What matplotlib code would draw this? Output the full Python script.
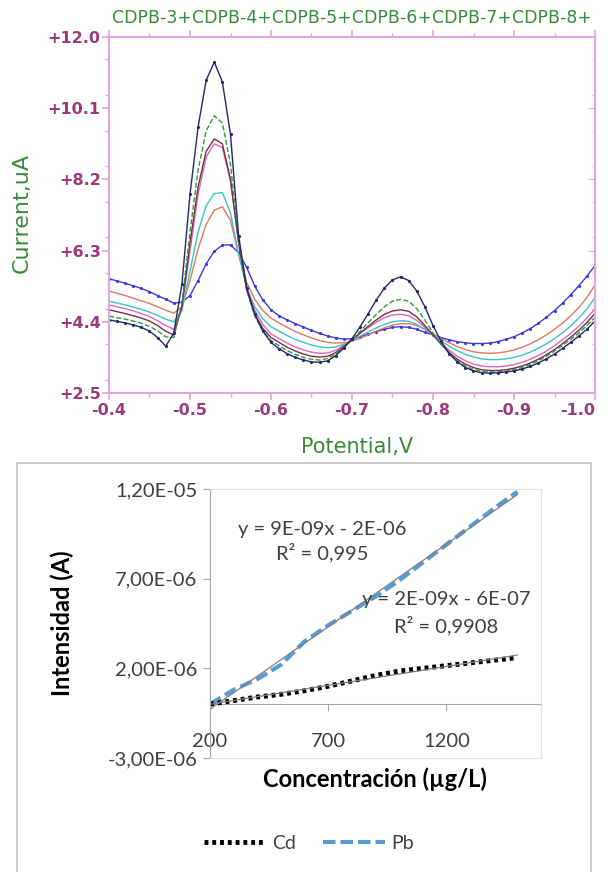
import numpy as np
import matplotlib.pyplot as plt
from matplotlib.patches import Rectangle
from matplotlib.ticker import FuncFormatter, MultipleLocator
from matplotlib.lines import Line2D

# ---- top panel: voltammograms ----
potential = np.round(np.arange(-0.40, -1.005, -0.01), 2)

cdpb_navy = [4.45, 4.41, 4.37, 4.32, 4.25, 4.15, 3.98, 3.75, 4.1, 5.4,
             7.8, 9.6, 10.85, 11.33, 10.8, 9.4, 6.7, 5.3, 4.6, 4.15,
             3.85, 3.68, 3.55, 3.45, 3.38, 3.33, 3.32, 3.36, 3.5, 3.7,
             3.95, 4.27, 4.62, 4.98, 5.3, 5.52, 5.6, 5.5, 5.22, 4.8,
             4.3, 3.88, 3.55, 3.33, 3.18, 3.09, 3.04, 3.03, 3.04, 3.06,
             3.09, 3.14, 3.21, 3.3, 3.41, 3.54, 3.69, 3.85, 4.02, 4.2, 4.42]
cdpb_green = [4.55, 4.51, 4.47, 4.42, 4.36, 4.28, 4.16, 4.0, 3.98, 4.9,
              6.8, 8.45, 9.5, 9.9, 9.7, 8.6, 6.6, 5.25, 4.55, 4.15,
              3.9, 3.76, 3.63, 3.53, 3.45, 3.4, 3.38, 3.42, 3.55, 3.72,
              3.92, 4.15, 4.38, 4.6, 4.8, 4.95, 5.0, 4.95, 4.75, 4.45,
              4.1, 3.8, 3.55, 3.36, 3.22, 3.13, 3.08, 3.06, 3.06, 3.08,
              3.12, 3.18, 3.26, 3.36, 3.48, 3.62, 3.77, 3.93, 4.1, 4.3, 4.52]
cdpb_maroon = [4.72, 4.67, 4.62, 4.56, 4.5, 4.42, 4.3, 4.15, 4.05, 4.8,
               6.5, 8.0, 8.95, 9.28, 9.15, 8.2, 6.5, 5.25, 4.6, 4.22,
               3.98, 3.85, 3.72, 3.62, 3.54, 3.48, 3.46, 3.48, 3.58, 3.74,
               3.92, 4.1, 4.28, 4.45, 4.6, 4.69, 4.72, 4.68, 4.53, 4.3,
               4.05, 3.8, 3.58, 3.4, 3.27, 3.18, 3.12, 3.1, 3.1, 3.12,
               3.16, 3.22, 3.3, 3.4, 3.52, 3.66, 3.82, 3.99, 4.17, 4.38, 4.62]
cdpb_pink = [4.85, 4.8, 4.75, 4.69, 4.62, 4.54, 4.43, 4.3, 4.2, 4.75,
             6.3, 7.8, 8.8, 9.15, 9.05, 8.15, 6.55, 5.35, 4.7, 4.32,
             4.08, 3.95, 3.83, 3.73, 3.65, 3.59, 3.56, 3.57, 3.64, 3.77,
             3.93, 4.09, 4.24, 4.39, 4.51, 4.58, 4.6, 4.56, 4.44, 4.25,
             4.04, 3.83, 3.64, 3.48, 3.36, 3.27, 3.22, 3.2, 3.2, 3.22,
             3.26, 3.32, 3.4, 3.5, 3.62, 3.76, 3.92, 4.09, 4.28, 4.5, 4.75]
cdpb_cyan = [4.95, 4.9, 4.85, 4.79, 4.73, 4.66, 4.57, 4.47, 4.4, 4.7,
             5.75, 6.8, 7.5, 7.82, 7.85, 7.3, 6.2, 5.3, 4.8, 4.48,
             4.27, 4.15, 4.03, 3.93, 3.85, 3.78, 3.73, 3.71, 3.73, 3.8,
             3.9, 4.02, 4.13, 4.24, 4.33, 4.4, 4.43, 4.41, 4.33, 4.2,
             4.05, 3.89, 3.75, 3.63, 3.53, 3.46, 3.41, 3.39, 3.39, 3.41,
             3.45, 3.51, 3.59, 3.69, 3.81, 3.95, 4.11, 4.29, 4.5, 4.74, 5.05]
cdpb_salmon = [5.22, 5.16, 5.1, 5.03, 4.96, 4.89, 4.8, 4.71, 4.63, 4.8,
               5.5, 6.35, 7.0, 7.38, 7.47, 7.1, 6.2, 5.45, 5.0, 4.7,
               4.5, 4.37, 4.25, 4.14, 4.05, 3.97, 3.9, 3.85, 3.83, 3.84,
               3.88, 3.96, 4.05, 4.15, 4.24, 4.31, 4.35, 4.35, 4.3, 4.2,
               4.07, 3.95, 3.84, 3.74, 3.66, 3.6, 3.57, 3.56, 3.57, 3.6,
               3.65, 3.72, 3.81, 3.92, 4.05, 4.2, 4.37, 4.56, 4.78, 5.05, 5.38]
cdpb_blue = [5.55, 5.49, 5.43, 5.36, 5.29, 5.2, 5.1, 5.0, 4.9, 4.92,
             5.1, 5.5, 5.95, 6.28, 6.45, 6.45, 6.25, 5.85, 5.35, 4.98,
             4.72, 4.56, 4.45, 4.35, 4.26, 4.17, 4.09, 4.02, 3.97, 3.94,
             3.95, 4.0, 4.07, 4.14, 4.2, 4.25, 4.27, 4.25, 4.2, 4.12,
             4.05, 3.98, 3.92, 3.87, 3.84, 3.82, 3.82, 3.83, 3.87, 3.93,
             4.0, 4.1, 4.22, 4.36, 4.52, 4.7, 4.9, 5.12, 5.36, 5.62, 5.9]

curves = [
    (cdpb_blue, "#3a3ae0", "-", "."),
    (cdpb_salmon, "#e07a5a", "-", None),
    (cdpb_cyan, "#3cc4c4", "-", None),
    (cdpb_pink, "#d66ab8", "-", None),
    (cdpb_maroon, "#7a2c44", "-", None),
    (cdpb_green, "#2f9a3a", "--", None),
    (cdpb_navy, "#26266e", "-", "."),
]

# ---- bottom panel: calibration ----
concentration = [200, 300, 400, 500, 600, 700, 800, 900, 1000, 1100, 1200, 1300, 1400, 1500]
cd_current = [0.0, 0.2, 0.4, 0.55, 0.75, 1.0, 1.3, 1.6, 1.85, 2.0, 2.15, 2.3, 2.45, 2.6]
pb_current = [0.0, 0.8, 1.4, 2.2, 3.5, 4.4, 5.2, 6.0, 6.9, 7.9, 8.9, 9.9, 10.9, 11.85]
cd_current = [v * 1e-6 for v in cd_current]
pb_current = [v * 1e-6 for v in pb_current]

W, H = 608, 872
fig = plt.figure(figsize=(W / 100, H / 100), dpi=100)

pink = "#e4a6d6"
mag = "#9c3a7c"
grn = "#3a8a3a"

ax1 = fig.add_axes([109 / W, 1 - 393 / H, (595 - 109) / W, (393 - 37) / H])
for ys, col, ls, mk in curves:
    ax1.plot(potential, ys, color=col, lw=1.0, ls=ls, marker=mk, ms=2.5)
ax1.set_xlim(-0.4, -1.0)
ax1.set_ylim(2.5, 12.0)
ax1.set_yticks([12.0, 10.1, 8.2, 6.3, 4.4, 2.5])
ax1.yaxis.set_minor_locator(MultipleLocator(0.95))
ax1.set_xticks([-0.4, -0.5, -0.6, -0.7, -0.8, -0.9, -1.0])
ax1.xaxis.set_minor_locator(MultipleLocator(0.05))
ax1.yaxis.set_major_formatter(FuncFormatter(lambda v, p: f"{v:+.1f}"))
ax1.xaxis.set_major_formatter(FuncFormatter(lambda v, p: f"{v:.1f}"))
for s in ax1.spines.values():
    s.set_color(pink)
    s.set_linewidth(1.5)
ax1.tick_params(which="both", colors=pink, labelcolor=mag, labelsize=11.5,
                top=True, direction="out")
ax1.tick_params(which="major", length=5, width=1.2)
ax1.tick_params(which="minor", length=3, width=1.0)
ax1.tick_params(axis="y", pad=1)
ax1.tick_params(axis="x", pad=2)
for lab in ax1.get_xticklabels() + ax1.get_yticklabels():
    lab.set_fontweight("bold")
ax1.get_xticklabels()[-1].set_horizontalalignment("right")
sec = ax1.secondary_yaxis("right")
sec.set_yticks([12.0, 10.1, 8.2, 6.3, 4.4, 2.5])
sec.yaxis.set_minor_locator(MultipleLocator(0.95))
sec.tick_params(which="both", direction="in", colors=pink, labelright=False)
sec.tick_params(which="major", length=5)
sec.spines["right"].set_color(pink)
sec.spines["right"].set_linewidth(1.5)

fig.text(352 / W, 1 - 18 / H, "CDPB-3+CDPB-4+CDPB-5+CDPB-6+CDPB-7+CDPB-8+",
         color=grn, fontsize=12.5, ha="center", va="center")
fig.text(22 / W, 1 - 213 / H, "Current,uA", color=grn, fontsize=16,
         rotation=90, ha="center", va="center")
fig.text(357 / W, 1 - 447 / H, "Potential,V", color=grn, fontsize=15,
         ha="center", va="center")

# ---- bottom panel ----
fig.patches.append(Rectangle((17 / W, -0.01), (591 - 17) / W, 1 - 463 / H + 0.01,
                             transform=fig.transFigure, fill=False,
                             edgecolor="#c4c4c4", lw=1.2))

ax2 = fig.add_axes([210 / W, 1 - 758 / H, (541 - 210) / W, (758 - 489) / H])
ax2.plot(concentration, pb_current, color="#5b9bd5", lw=3, ls=(0, (3, 1.2)))
ax2.plot(concentration, cd_current, color="black", lw=3.5, ls=(0, (0.8, 0.8)))
for ys in (pb_current, cd_current):
    k, b = np.polyfit(concentration, ys, 1)
    xs = np.array([concentration[0], concentration[-1]])
    ax2.plot(xs, k * xs + b, color="#7f7f7f", lw=0.9)

ax2.set_xlim(200, 1600)
ax2.set_ylim(-3e-6, 1.2e-5)
ax2.set_yticks([-3e-6, 2e-6, 7e-6, 1.2e-5])
ax2.yaxis.set_major_formatter(FuncFormatter(lambda v, p: f"{v:.2E}".replace(".", ",")))
ax2.set_xticks([200, 700, 1200])
for name in ("top", "right", "bottom"):
    ax2.spines[name].set_color("#dce6f1")
ax2.spines["left"].set_color("#a6a6a6")
ax2.tick_params(axis="y", length=5, color="#a6a6a6", labelsize=14.5,
                labelcolor="#404040", pad=4)
ax2.tick_params(axis="x", length=0, labelsize=14.5, labelcolor="#404040", pad=-18)
for lab in ax2.get_yticklabels() + ax2.get_xticklabels():
    lab.set_family("Lato")

ylo, yhi = ax2.get_ylim()
zero_ax = ax2.secondary_xaxis((0 - ylo) / (yhi - ylo))
zero_ax.set_xticks([200, 700, 1200])
zero_ax.tick_params(direction="out", length=5, color="#a6a6a6", labelbottom=False)
zero_ax.spines["bottom"].set_color("#a6a6a6")

eq_kw = dict(family="Lato", fontsize=14.5, color="#404040", ha="center",
             va="center", transform=fig.transFigure)
fig.text(322 / W, 1 - 530 / H, "y = 9E-09x - 2E-06", **eq_kw)
fig.text(322 / W, 1 - 553 / H, "R² = 0,995", **eq_kw)
fig.text(446 / W, 1 - 599 / H, "y = 2E-09x - 6E-07", **eq_kw)
fig.text(446 / W, 1 - 626 / H, "R² = 0,9908", **eq_kw)

fig.text(375 / W, 1 - 779 / H, "Concentración (µg/L)", family="Lato",
         fontsize=17, weight="bold", ha="center", va="center")
fig.text(62 / W, 1 - 623 / H, "Intensidad (A)", family="Lato", fontsize=17,
         weight="bold", rotation=90, ha="center", va="center")

handles = [Line2D([], [], color="black", lw=3.5, ls=(0, (0.8, 0.8))),
           Line2D([], [], color="#5b9bd5", lw=3, ls=(0, (3, 1.2)))]
fig.legend(handles, ["Cd", "Pb"], loc="center", ncol=2,
           bbox_to_anchor=(309 / W, 1 - 843 / H), frameon=False,
           prop={"family": "Lato", "size": 14}, handlelength=3.2,
           handletextpad=0.3, columnspacing=1.4, labelcolor="#404040")

fig.savefig("out.png", dpi=100)
